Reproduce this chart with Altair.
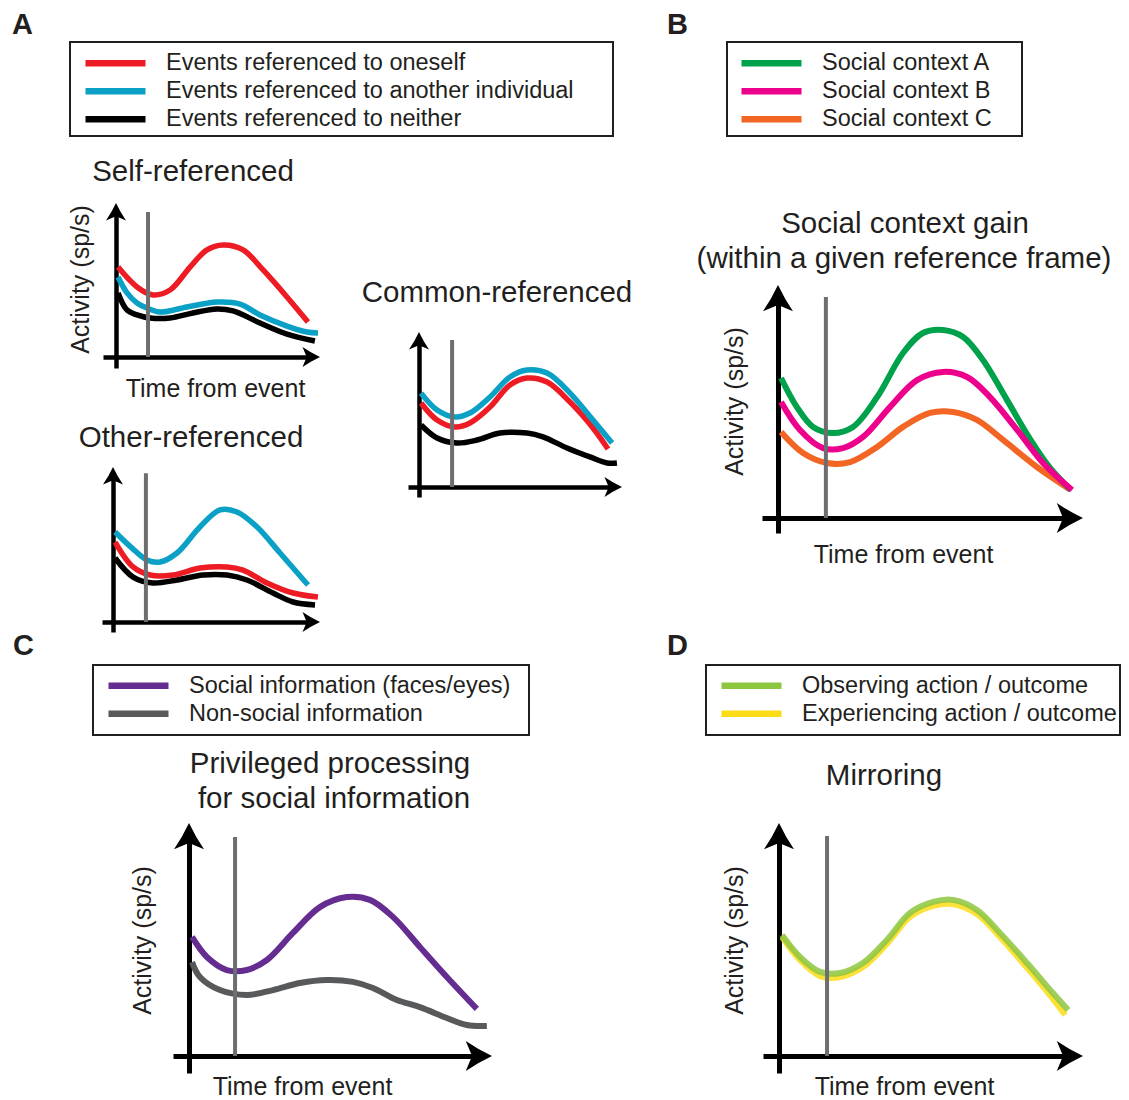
import altair as alt
import pandas as pd

FONT = "Liberation Sans"
TXT = "#231f20"
CW, CH = 1113, 1092

# ---------------- data (arbitrary units: time 0..10, activity 0..10) ----------------
A_SERIES = ["Events referenced to oneself", "Events referenced to another individual",
            "Events referenced to neither"]
A_COLORS = ["#ed1c24", "#0ba0c6", "#000000"]

self_red_t = [0.1, 1.03, 1.81, 2.65, 3.63, 4.46, 5.25, 6.23, 7.21, 8.38, 9.41]
self_red_a = [5.84, 4.55, 4.03, 4.35, 5.84, 6.95, 7.27, 6.95, 5.65, 3.90, 2.27]
self_blue_t = [0.1, 0.54, 1.03, 1.52, 2.16, 3.48, 4.95, 6.08, 7.06, 8.38, 9.36, 9.9]
self_blue_a = [5.19, 4.16, 3.51, 3.18, 2.92, 3.25, 3.57, 3.44, 2.73, 2.01, 1.62, 1.56]
self_black_t = [0.1, 0.54, 1.03, 1.67, 2.65, 3.77, 4.95, 5.74, 7.06, 8.38, 9.75]
self_black_a = [4.16, 3.05, 2.73, 2.53, 2.53, 2.86, 3.12, 2.99, 2.21, 1.49, 1.04]

other_blue_t = [0.1, 0.92, 1.64, 2.27, 3.09, 4.20, 5.17, 5.99, 6.96, 8.07, 9.42]
other_blue_a = [5.81, 4.77, 4.00, 3.87, 4.45, 6.13, 7.23, 7.10, 6.13, 4.45, 2.39]
other_red_t = [0.1, 0.97, 1.79, 2.90, 4.20, 5.51, 6.28, 7.44, 8.70, 9.90]
other_red_a = [5.16, 3.55, 3.03, 3.03, 3.48, 3.55, 3.35, 2.52, 1.87, 1.61]
other_black_t = [0.1, 0.97, 1.93, 3.09, 4.35, 5.51, 6.47, 7.73, 8.70, 9.76]
other_black_a = [4.13, 2.90, 2.52, 2.71, 3.03, 3.03, 2.71, 1.87, 1.29, 1.10]

common_blue_t = [0.1, 0.89, 1.77, 2.51, 3.50, 4.48, 5.32, 6.31, 7.44, 8.57, 9.51]
common_blue_a = [6.06, 4.97, 4.52, 4.77, 5.81, 7.10, 7.55, 7.35, 6.06, 4.32, 2.84]
common_red_t = [0.1, 0.89, 1.77, 2.51, 3.50, 4.48, 5.32, 6.31, 7.44, 8.57, 9.31]
common_red_a = [5.42, 4.32, 3.87, 4.13, 5.16, 6.58, 7.03, 6.77, 5.48, 3.81, 2.45]
common_black_t = [0.1, 0.89, 1.87, 2.86, 3.99, 5.32, 6.11, 7.29, 8.42, 9.26, 9.75]
common_black_a = [4.0, 3.16, 2.84, 3.03, 3.48, 3.48, 3.23, 2.52, 1.94, 1.55, 1.55]

B_SERIES = ["Social context A", "Social context B", "Social context C"]
B_COLORS = ["#00a14b", "#ec008c", "#f26522"]
b_green_t = [0.1, 0.62, 1.15, 1.80, 2.46, 3.25, 4.10, 4.75, 5.41, 6.07, 6.72, 7.51, 8.26, 8.92, 9.6]
b_green_a = [6.01, 4.76, 3.91, 3.65, 3.91, 5.19, 7.08, 7.94, 8.07, 7.77, 6.78, 5.06, 3.40, 2.15, 1.20]
b_mag_t = [0.1, 0.72, 1.48, 2.13, 2.79, 3.67, 4.56, 5.41, 6.20, 6.95, 7.84, 8.69, 9.64]
b_mag_a = [4.98, 3.78, 3.00, 3.00, 3.48, 4.76, 5.92, 6.27, 6.05, 5.19, 3.78, 2.36, 1.20]
b_orange_t = [0.1, 0.82, 1.61, 2.36, 3.25, 4.10, 4.98, 5.74, 6.52, 7.38, 8.49, 9.55]
b_orange_a = [3.69, 2.79, 2.36, 2.40, 3.05, 3.91, 4.51, 4.55, 4.21, 3.35, 2.19, 1.25]

C_SERIES = ["Social information (faces/eyes)", "Non-social information"]
C_COLORS = ["#662d91", "#58595b"]
c_purple_t = [0.1, 0.59, 1.25, 1.91, 2.57, 3.43, 4.32, 5.21, 5.97, 6.73, 7.62, 8.51, 9.50]
c_purple_a = [5.11, 4.25, 3.69, 3.69, 4.12, 5.28, 6.39, 6.82, 6.70, 5.97, 4.68, 3.39, 2.02]
c_gray_t = [0.1, 0.36, 1.02, 1.91, 2.77, 3.66, 4.55, 5.41, 6.07, 6.86, 7.62, 8.51, 9.17, 9.83]
c_gray_a = [4.03, 3.39, 2.83, 2.62, 2.83, 3.13, 3.26, 3.18, 2.92, 2.40, 2.10, 1.63, 1.33, 1.29]

D_SERIES = ["Observing action / outcome", "Experiencing action / outcome"]
D_COLORS = ["#8dc63f", "#fcdc17"]
d_green_t = [0.1, 0.69, 1.35, 2.01, 2.76, 3.55, 4.31, 5.07, 5.72, 6.51, 7.27, 8.16, 9.01, 9.51]
d_green_a = [5.19, 4.25, 3.61, 3.56, 3.99, 4.98, 6.14, 6.61, 6.70, 6.27, 5.28, 3.99, 2.70, 1.97]
d_yellow_t = [0.1, 0.69, 1.35, 2.01, 2.76, 3.55, 4.31, 5.07, 5.72, 6.51, 7.27, 8.16, 9.01, 9.41]
d_yellow_a = [5.11, 4.12, 3.43, 3.39, 3.82, 4.81, 5.97, 6.44, 6.52, 6.09, 5.11, 3.78, 2.45, 1.76]

# event time (grey vertical line) and its top, per plot
EVENT = {"self": (1.57, 9.42), "other": (1.59, 9.6), "common": (1.63, 9.48),
         "B": (1.57, 9.48), "C": (1.52, 9.40), "D": (1.58, 9.44)}

# ---------------- layout (reference pixels) ----------------
# (y-axis x, x-axis y, x arrow tip, y arrow tip, x-axis left start, y-axis bottom)
GEO = {
    "self": (116, 357, 320, 203, 103, 368),
    "other": (113, 622, 320, 467, 102, 632),
    "common": (419, 487, 622, 332, 408, 497),
    "B": (778, 518, 1083, 285, 762, 533),
    "C": (189, 1056, 492, 823, 173, 1073),
    "D": (779, 1056, 1083, 823, 763, 1073),
}

UP = "M0,0 Q0.45,0.95 1,1.75 L0,1.33 L-1,1.75 Q-0.45,0.95 0,0 Z"
RIGHT = "M0,0 Q-0.95,0.45 -1.75,1 L-1.33,0 L-1.75,-1 Q-0.95,-0.45 0,0 Z"

ONE = pd.DataFrame({"k": [0]})


def series_df(parts):
    return pd.concat([pd.DataFrame({"series": n, "t": t, "a": a}) for n, t, a in parts],
                     ignore_index=True)


def legend(x, y):
    return alt.Legend(orient="none", legendX=x - 8, legendY=y - 8, title=None,
                      symbolType="stroke", symbolSize=3600, symbolStrokeWidth=6.5,
                      clipHeight=27.5, rowPadding=0, labelFont=FONT, labelFontSize=23.5,
                      labelColor=TXT, labelOffset=17, labelLimit=1000, padding=0,
                      symbolOpacity=1)


def make_plot(key, df, domain, colors, leg, big, xtitle=None, ytitle=None, opacity=1.0):
    ax, ay, tx, ty, xs, yb = [g - 8 for g in GEO[key]]
    kx = (tx - ax) / 10.0
    ky = (ay - ty) / 10.0
    t_lo = (xs - ax) / kx
    t_hi = 10 - 9.0 / kx
    a_lo = (ay - yb) / ky
    a_hi = 10 - 9.0 / ky
    xsc = alt.Scale(domain=[t_lo, t_hi], range=[xs, ax + t_hi * kx], nice=False, zero=False)
    ysc = alt.Scale(domain=[a_lo, a_hi], range=[yb, ay - a_hi * ky], nice=False, zero=False)
    aw = 5 if big else 4.5
    base = dict(domain=True, domainWidth=aw, domainColor="black", ticks=False, labels=False,
                grid=False, titleFont=FONT, titleFontSize=25, titleFontWeight="normal",
                titleColor=TXT, titleBaseline="alphabetic", titleAlign="center")
    xkw = dict(base, orient="bottom", offset=ay - CH)
    ykw = dict(base, orient="left", offset=-ax)
    if xtitle:
        xkw.update(title=xtitle[0], titleX=xtitle[1] - 8, titleY=xtitle[2])
    else:
        xkw.update(title=None)
    if ytitle:
        ykw.update(title=ytitle[0], titleX=ytitle[1], titleY=ytitle[2] - 8)
    else:
        ykw.update(title=None)
    xaxis = alt.Axis(**xkw)
    yaxis = alt.Axis(**ykw)
    lw = 6 if big else 5.5
    color = alt.Color("series:N", scale=alt.Scale(domain=domain, range=colors))
    color = color.legend(leg) if leg is not None else color.legend(None)
    curves = alt.Chart(df).mark_line(strokeWidth=lw, interpolate="catmull-rom", opacity=opacity).encode(
        x=alt.X("t:Q", scale=xsc, axis=xaxis),
        y=alt.Y("a:Q", scale=ysc, axis=yaxis),
        color=color,
    )
    ev_t, ev_top = EVENT[key]
    vline = alt.Chart(pd.DataFrame({"t": [ev_t], "a0": [0.0], "a1": [ev_top]})).mark_rule(
        color="#6d6e71", strokeWidth=4).encode(
        x=alt.X("t:Q", scale=xsc, axis=xaxis),
        y=alt.Y("a0:Q", scale=ysc, axis=yaxis), y2="a1:Q")
    asz = 900 if big else 400
    up = alt.Chart(pd.DataFrame({"t": [0.0], "a": [10.0]})).mark_point(
        shape=UP, size=asz, filled=True, color="black", opacity=1, strokeWidth=0).encode(
        x=alt.X("t:Q", scale=xsc, axis=xaxis), y=alt.Y("a:Q", scale=ysc, axis=yaxis))
    right = alt.Chart(pd.DataFrame({"t": [10.0], "a": [0.0]})).mark_point(
        shape=RIGHT, size=asz, filled=True, color="black", opacity=1, strokeWidth=0).encode(
        x=alt.X("t:Q", scale=xsc, axis=xaxis), y=alt.Y("a:Q", scale=ysc, axis=yaxis))
    return alt.layer(curves, vline, up, right)


def txt(s, x, y, size=29.5, weight="normal", align="center"):
    return alt.Chart(ONE).mark_text(text=s, font=FONT, fontSize=size, fontWeight=weight,
                                    color=TXT, align=align, baseline="alphabetic").encode(
        x=alt.value(x - 8), y=alt.value(y - 8))


def frame(x0, y0, x1, y1):
    return alt.Chart(ONE).mark_rect(filled=False, stroke=TXT, color=TXT, strokeWidth=2).encode(
        x=alt.value(x0 - 8), x2=alt.value(x1 - 8), y=alt.value(y0 - 8), y2=alt.value(y1 - 8))


df_self = series_df([(A_SERIES[2], self_black_t, self_black_a), (A_SERIES[1], self_blue_t, self_blue_a),
                     (A_SERIES[0], self_red_t, self_red_a)])
df_other = series_df([(A_SERIES[2], other_black_t, other_black_a), (A_SERIES[0], other_red_t, other_red_a),
                      (A_SERIES[1], other_blue_t, other_blue_a)])
df_common = series_df([(A_SERIES[2], common_black_t, common_black_a), (A_SERIES[0], common_red_t, common_red_a),
                       (A_SERIES[1], common_blue_t, common_blue_a)])
df_b = series_df([(B_SERIES[2], b_orange_t, b_orange_a), (B_SERIES[0], b_green_t, b_green_a),
                  (B_SERIES[1], b_mag_t, b_mag_a)])
df_c = series_df([(C_SERIES[1], c_gray_t, c_gray_a), (C_SERIES[0], c_purple_t, c_purple_a)])
df_d = series_df([(D_SERIES[1], d_yellow_t, d_yellow_a), (D_SERIES[0], d_green_t, d_green_a)])

layers = [
    frame(70, 42, 613, 136), frame(727, 42, 1022, 136),
    frame(93, 665, 529, 735), frame(706, 665, 1120, 735),
    make_plot("self", df_self, A_SERIES, A_COLORS, legend(82, 49.5), False,
              xtitle=("Time from event", 215, 39), ytitle=("Activity (sp/s)", -28, 279)),
    make_plot("other", df_other, A_SERIES, A_COLORS, None, False),
    make_plot("common", df_common, A_SERIES, A_COLORS, None, False),
    make_plot("B", df_b, B_SERIES, B_COLORS, legend(738, 49.5), True,
              xtitle=("Time from event", 903, 44), ytitle=("Activity (sp/s)", -36, 401)),
    make_plot("C", df_c, C_SERIES, C_COLORS, legend(105, 672), True,
              xtitle=("Time from event", 302, 38), ytitle=("Activity (sp/s)", -39, 940)),
    make_plot("D", df_d, D_SERIES, D_COLORS, legend(718, 672), True,
              xtitle=("Time from event", 904, 38), ytitle=("Activity (sp/s)", -37, 940), opacity=0.85),
    txt("A", 12, 34, size=29, weight="bold", align="left"),
    txt("B", 667, 34, size=29, weight="bold", align="left"),
    txt("C", 13, 655, size=29, weight="bold", align="left"),
    txt("D", 667, 655, size=29, weight="bold", align="left"),
    txt("Self-referenced", 193, 181),
    txt("Other-referenced", 191, 447),
    txt("Common-referenced", 497, 302),
    txt("Social context gain", 905, 233),
    txt("(within a given reference frame)", 904, 268),
    txt("Privileged processing", 330, 773),
    txt("for social information", 334, 808),
    txt("Mirroring", 884, 785),
]

chart = alt.layer(*layers).resolve_scale(
    x="independent", y="independent", color="independent"
).properties(
    width=CW, height=CH, autosize=alt.AutoSizeParams(type="none"), padding=0
).configure_view(strokeWidth=0)

chart.save("out.html", embed_options={"renderer": "svg", "actions": False})
